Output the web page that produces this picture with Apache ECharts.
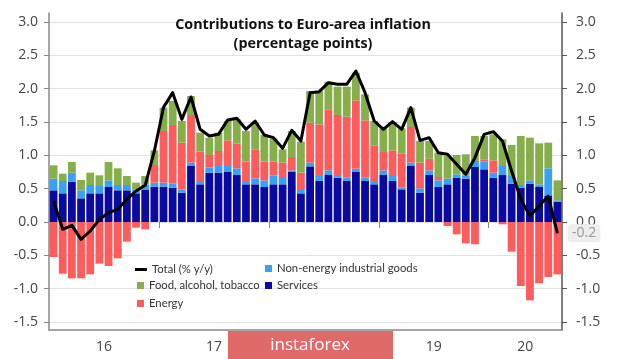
<!DOCTYPE html>
<html><head><meta charset="utf-8">
<script src="https://cdn.jsdelivr.net/npm/echarts@6/dist/echarts.min.js"></script>
<style>html,body{margin:0;padding:0;background:#fff}#c{width:620px;height:359px}</style>
</head><body><div id="c"></div>
<script>
const months = [
 '2016-01','2016-02','2016-03','2016-04','2016-05','2016-06','2016-07','2016-08','2016-09','2016-10','2016-11','2016-12',
 '2017-01','2017-02','2017-03','2017-04','2017-05','2017-06','2017-07','2017-08','2017-09','2017-10','2017-11','2017-12',
 '2018-01','2018-02','2018-03','2018-04','2018-05','2018-06','2018-07','2018-08','2018-09','2018-10','2018-11','2018-12',
 '2019-01','2019-02','2019-03','2019-04','2019-05','2019-06','2019-07','2019-08','2019-09','2019-10','2019-11','2019-12',
 '2020-01','2020-02','2020-03','2020-04','2020-05','2020-06','2020-07','2020-08'];
const yearLabels = ['16','17','18','19','20'];
const yTicks = [-1.5,-1.0,-0.5,0,0.5,1.0,1.5,2.0,2.5,3.0];

const services = [0.475,0.43,0.605,0.355,0.43,0.43,0.525,0.475,0.475,0.43,0.48,0.53,
 0.53,0.515,0.44,0.84,0.565,0.74,0.74,0.75,0.705,0.565,0.565,0.525,
 0.565,0.565,0.75,0.43,0.835,0.615,0.705,0.665,0.615,0.75,0.615,0.565,
 0.705,0.615,0.49,0.84,0.44,0.705,0.525,0.565,0.665,0.65,0.825,0.79,
 0.665,0.705,0.575,0.515,0.575,0.525,0.39,0.305];
const neig = [0.175,0.185,0.135,0.12,0.125,0.11,0.1,0.08,0.08,0.06,0.085,0.06,
 0.06,0.06,0.05,0.05,0.05,0.075,0.1,0.09,0.1,0.05,0.09,0.1,
 0.135,0.11,0.025,0.05,0.055,0.075,0.07,0.04,0.05,0.05,0.05,0.05,
 0.07,0.09,0.025,0.05,0.065,0.07,0.1,0.085,0.05,0.05,0.09,0.115,
 0.075,0.135,0.115,0.04,0.05,0.04,0.415,0.02];
const energy = [-0.525,-0.775,-0.845,-0.845,-0.785,-0.625,-0.66,-0.545,-0.295,-0.085,-0.11,0.265,
 0.775,0.88,0.7,0.715,0.44,0.19,0.225,0.385,0.37,0.29,0.435,0.28,
 0.205,0.215,0.2,0.26,0.6,0.775,0.915,0.9,0.915,1.025,0.86,0.535,
 0.275,0.37,0.515,0.535,0.385,0.175,0.05,-0.06,-0.185,-0.32,-0.335,0.035,
 0.185,-0.035,-0.445,-0.96,-1.175,-0.92,-0.825,-0.785];
const food = [0.2,0.11,0.16,0.155,0.185,0.16,0.275,0.25,0.135,0.1,0.125,0.22,
 0.35,0.36,0.325,0.285,0.285,0.26,0.275,0.29,0.365,0.46,0.4,0.4,
 0.345,0.2,0.39,0.465,0.475,0.5,0.415,0.425,0.45,0.415,0.39,0.365,
 0.355,0.425,0.375,0.29,0.325,0.265,0.365,0.34,0.29,0.315,0.375,0.35,
 0.39,0.4,0.465,0.735,0.64,0.615,0.385,0.3];
const total = [0.315,-0.11,-0.05,-0.26,-0.135,0.04,0.14,0.19,0.34,0.465,0.55,1.065,
 1.72,1.94,1.54,1.875,1.39,1.29,1.315,1.53,1.555,1.39,1.515,1.305,
 1.265,1.105,1.375,1.215,1.94,1.955,2.09,2.065,2.065,2.265,1.94,1.515,
 1.39,1.505,1.39,1.715,1.225,1.265,1.04,1.015,0.865,0.715,0.965,1.315,
 1.355,1.215,0.765,0.34,0.09,0.24,0.39,-0.17];

// year label centres and boundaries derived from the month categories
const yearCentres = [], yearBounds = [];
yearLabels.forEach((y, k) => {
  const idx = months.map((m, i) => m.startsWith('20' + y) ? i : -1).filter(i => i >= 0);
  yearCentres.push((idx[0] + idx[idx.length - 1] + 1) / 2);
  if (k > 0) yearBounds.push(idx[0]);
});

const FONT = 'Open Sans';
const LFONT = 'Lato';
const C = {services:'#0a0aa0', neig:'#3aa0f5', energy:'#fd5c5c', food:'#86ae4b'};
const legendBase = {orient:'vertical', padding:0, itemGap:7, selectedMode:false,
  textStyle:{fontSize:11.3, color:'#333', fontFamily:LFONT}};

const chart = echarts.init(document.getElementById('c'), null, {renderer:'canvas'});
const yCommon = {
  type:'value', min:-1.62, max:3.135,
  axisLine:{show:true, lineStyle:{color:'#888', width:1.5}},
  axisTick:{show:true, length:5, customValues:yTicks, lineStyle:{color:'#888'}},
  axisLabel:{customValues:yTicks, formatter:v => v.toFixed(1), fontSize:14, color:'#444', fontFamily:FONT},
  splitLine:{show:false}
};
chart.setOption({
  animation:false,
  grid:{left:49, right:58, top:13, bottom:29},
  legend:[
    Object.assign({}, legendBase, {left:135, top:264, itemWidth:12, itemHeight:3, data:[{name:'Total (% y/y)', icon:'rect'}]}),
    Object.assign({}, legendBase, {left:137, top:280, itemWidth:7, itemHeight:7, data:[{name:'Food, alcohol, tobacco', icon:'rect'},{name:'Energy', icon:'rect'}]}),
    Object.assign({}, legendBase, {left:265, top:263, itemWidth:7, itemHeight:7, itemGap:6, data:[{name:'Non-energy industrial goods', icon:'rect'},{name:'Services', icon:'rect'}]})
  ],
  xAxis:[
    {type:'category', data:months, boundaryGap:true,
     axisLine:{show:true, onZero:false, lineStyle:{color:'#888', width:1.5}},
     axisTick:{show:false}, axisLabel:{show:false}},
    {type:'value', min:0, max:months.length, position:'bottom',
     axisLine:{show:false},
     axisTick:{show:true, length:6, customValues:yearBounds, lineStyle:{color:'#888'}},
     axisLabel:{customValues:yearCentres, formatter:v => yearLabels[yearCentres.indexOf(v)] || '',
       fontSize:14, color:'#444', fontFamily:FONT, margin:10},
     splitLine:{show:false}}
  ],
  yAxis:[
    Object.assign({}, yCommon, {position:'left',
      splitLine:{show:true, lineStyle:{color:'#e2e2e2', width:1}},
      axisLabel:Object.assign({}, yCommon.axisLabel, {margin:11})}),
    Object.assign({}, yCommon, {position:'right',
      axisLine:{show:true, lineStyle:{color:'#555', width:1.5}},
      axisTick:{show:true, length:5, customValues:yTicks, lineStyle:{color:'#555'}},
      axisLabel:Object.assign({}, yCommon.axisLabel, {margin:14}),
      axisPointer:{show:true, type:'line', value:total[total.length-1], status:'show', triggerTooltip:false,
        lineStyle:{opacity:0},
        label:{show:true, formatter:p => Number(p.value).toFixed(1), backgroundColor:'#eeeeee', color:'#999',
          fontSize:14, fontFamily:FONT, padding:[2,4], margin:6}}})
  ],
  series:[
    {name:'Services', type:'bar', stack:'a', data:services, itemStyle:{color:C.services}, barCategoryGap:'15%'},
    {name:'Non-energy industrial goods', type:'bar', stack:'a', data:neig, itemStyle:{color:C.neig}},
    {name:'Energy', type:'bar', stack:'a', data:energy, itemStyle:{color:C.energy}},
    {name:'Food, alcohol, tobacco', type:'bar', stack:'a', data:food, itemStyle:{color:C.food}},
    {name:'Total (% y/y)', type:'line', data:total, symbol:'none', z:5,
     lineStyle:{color:'#000', width:3, join:'round'}, itemStyle:{color:'#000'}}
  ],
  graphic:[
    {type:'text', x:303, y:25, z:50, style:{text:'Contributions to Euro-area inflation', fill:'#111', fontSize:14.3, fontWeight:'bold', fontFamily:FONT, align:'center', verticalAlign:'middle'}},
    {type:'text', x:303, y:44, z:50, style:{text:'(percentage points)', fill:'#111', fontSize:14.3, fontWeight:'bold', fontFamily:FONT, align:'center', verticalAlign:'middle'}},
    {type:'group', left:228, top:331, z:100, children:[
      {type:'rect', z:100, shape:{x:0, y:0, width:165, height:30}, style:{fill:'#e06a6a'}},
      {type:'text', z:101, x:82, y:14, style:{text:'instaforex', fill:'#fff', fontSize:17, fontFamily:FONT, align:'center', verticalAlign:'middle'}}
    ]}
  ]
});
</script></body></html>
